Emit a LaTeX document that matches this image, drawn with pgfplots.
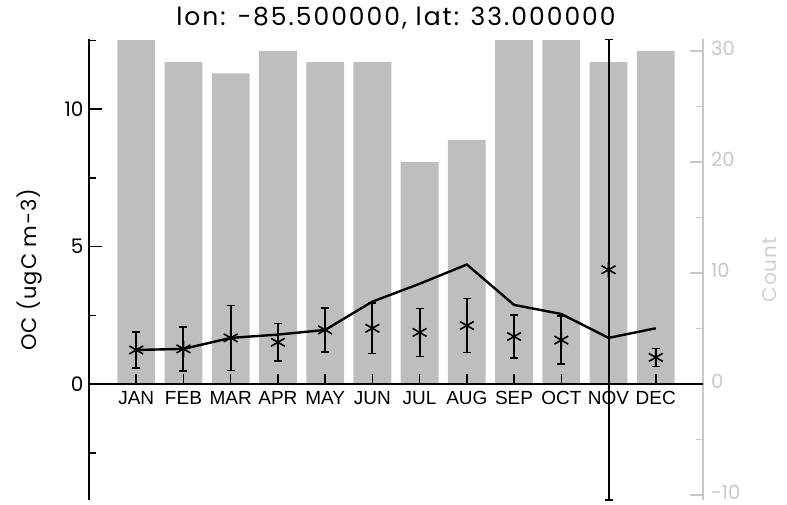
\documentclass[border=0pt]{standalone}
\usepackage{fontspec}
\setmainfont{Poppins}
\newfontfamily\helv{Liberation Sans}
\newfontfamily\titlefont{Poppins}[LetterSpace=8]
\newfontfamily\labelfont{Poppins}[LetterSpace=5]
\usepackage{pgfplots}
\pgfplotsset{compat=1.18}
\definecolor{bargray}{HTML}{BEBEBE}
\definecolor{axgray}{HTML}{C8C8C8}
\definecolor{lblgray}{HTML}{D0D0D0}

\begin{document}
\begin{tikzpicture}
% right axis: counts (bars)
\begin{axis}[
  scale only axis, width=614pt, height=460.5pt,
  xmin=0, xmax=13, ymin=-10.45, ymax=31.05,
  axis x line=none, axis y line*=right,
  y axis line style={axgray, line width=1.5pt},
  ytick={-10,0,10,20,30}, minor ytick={-5,5,15,25},
  tick align=inside,
  major tick length=13pt, minor tick length=7pt,
  ytick style={axgray, line width=1.5pt},
  yticklabel style={text=axgray, inner sep=0pt, xshift=8pt, yshift=3pt, font=\fontsize{19.5}{24}\selectfont},
  /pgf/number format/assume math mode=true,
  ylabel={Count},
  every axis y label/.style={at={(axis description cs:1,0.5)}, xshift=67pt, rotate=90, anchor=center, text=lblgray, font=\labelfont\fontsize{20}{24}\selectfont},
]
\addplot[ybar, bar width=0.8, fill=bargray, draw=none] coordinates {
(1,31) (2,29) (3,28) (4,30) (5,29) (6,29) (7,20) (8,22) (9,31) (10,31) (11,29) (12,30)
};
\end{axis}
% x axis at OC = 0 (bottom of an axis placed at the zero level)
\begin{axis}[
  at={(0pt,115.95pt)}, anchor=south west,
  scale only axis, width=614pt, height=344.55pt,
  xmin=0, xmax=13, ymin=0, ymax=12.54,
  axis x line*=bottom, axis y line=none,
  x axis line style={-, line width=1.6pt},
  xtick={1,2,3,4,5,6,7,8,9,10,11,12},
  xticklabels={JAN,FEB,MAR,APR,MAY,JUN,JUL,AUG,SEP,OCT,NOV,DEC},
  xtick pos=lower, xtick align=inside,
  xticklabel style={font=\helv\fontsize{19}{22}\selectfont, anchor=north, yshift=-4pt},
  major tick length=10pt,
  xtick style={black, line width=1.6pt},
]
\end{axis}
% left axis: OC
\begin{axis}[
  scale only axis, width=614pt, height=460.5pt,
  xmin=0, xmax=13, ymin=-4.22, ymax=12.54,
  axis x line=none, axis y line*=left,
  y axis line style={-, line width=1.6pt},
  ytick={0,5,10}, minor ytick={-2.5,2.5,7.5,12.5},
  tick align=inside, major tick length=13pt, minor tick length=7pt,
  tick style={black, line width=1.6pt},
  yticklabel style={font=\fontsize{20}{24}\selectfont, xshift=-2pt},
  /pgf/number format/assume math mode=true,
  ylabel={OC (ugC m−3)},
  every axis y label/.style={at={(axis description cs:0,0.5)}, xshift=-59pt, rotate=90, anchor=center, font=\labelfont\fontsize{21}{24}\selectfont},
  title={lon: −85.500000, lat: 33.000000},
  every axis title/.style={at={(axis description cs:0.5,1)}, anchor=center, yshift=21pt, font=\titlefont\fontsize{25}{28}\selectfont},
  clip=false,
]
\coordinate (BL) at (rel axis cs:0,0);
\addplot[black, line width=2.4pt, mark=none] coordinates {
(1,1.24) (2,1.28) (3,1.68) (4,1.80) (5,1.97) (6,3.00) (7,3.65) (8,4.35) (9,2.88) (10,2.55) (11,1.68) (12,2.03)
};
\addplot[black, only marks, mark=asterisk, mark size=8pt, line width=1.6pt,
  error bars/.cd, y dir=both, y explicit,
  error bar style={line width=2pt, black},
  error mark options={rotate=90, mark size=4pt, line width=1.6pt, black}]
coordinates {
(1,1.24) +- (0,0.66)
(2,1.28) +- (0,0.80)
(3,1.68) +- (0,1.18)
(4,1.52) +- (0,0.69)
(5,1.97) +- (0,0.80)
(6,2.03) +- (0,0.92)
(7,1.88) +- (0,0.87)
(8,2.13) +- (0,0.98)
(9,1.73) +- (0,0.79)
(10,1.60) +- (0,0.87)
(11,4.16) +- (0,8.38)
(12,0.97) +- (0,0.33)
};
\end{axis}
\path (BL) ++(-89pt,-4pt) rectangle ++(787pt,504pt);
\end{tikzpicture}
\end{document}
